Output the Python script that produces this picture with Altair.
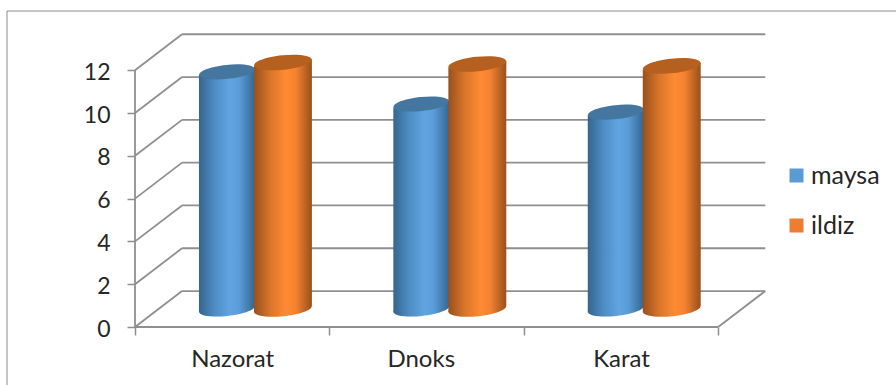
import altair as alt
import pandas as pd

# Chart values
categories = ["Nazorat", "Dnoks", "Karat"]
series_names = ["maysa", "ildiz"]
maysa = [11.08, 9.58, 9.2]
ildiz = [11.52, 11.45, 11.36]
y_levels = [0, 2, 4, 6, 8, 10, 12]

# Oblique projection of the 3D box, in data units
DEPTH_X = 0.242
DEPTH_Y = 1.68
X_MAX = 631 / 194.4
Y_MAX = 294 / 21.4
TILT_Y = 0.15
SERIES_STYLE = {
    "maysa": dict(left=0.329, right=0.617, cap="#44769f",
                  stops=["#34668f", "#4f8cc4", "#5fa5e2", "#5a9cd8", "#34668f"]),
    "ildiz": dict(left=0.612, right=0.91, cap="#b5601f",
                  stops=["#98501c", "#d9752b", "#ff8a33", "#f58230", "#98501c"]),
}
ELLIPSE = "M-1,0 A1,0.25 0 1,1 1,0 A1,0.25 0 1,1 -1,0 Z"

x_scale = alt.Scale(domain=[0, X_MAX], nice=False, zero=False)
y_scale = alt.Scale(domain=[0, Y_MAX], nice=False, zero=False)
LINE = "#8f8f8f"
FONT = "Lato"
TEXT = "#262626"

# Axes: labels sit at category centres, ticks at category boundaries
label_values = [0.5, 1.47, 2.5]
tick_values = list(range(len(categories) + 1))
label_expr = "{" + ",".join(f"'{v}':'{c}'" for v, c in zip(label_values, categories)) + "}[datum.value] || ''"
x_axis = alt.Axis(
    values=sorted(label_values + tick_values), labelExpr=label_expr, grid=False, domain=False,
    tickColor=LINE, tickWidth=1.5, tickSize=8, tickOpacity=alt.expr("datum.value % 1 ? 0 : 1"),
    labelFont=FONT, labelFontSize=24, labelColor=TEXT, labelPadding=12, labelAngle=0,
    labelBaseline="top", labelFlush=False, labelOverlap=False, title=None,
)
y_axis = alt.Axis(
    values=y_levels, grid=False, domain=False, tickColor=LINE, tickWidth=1.5, tickSize=8,
    labelFont=FONT, labelFontSize=23, labelColor=TEXT, labelPadding=17, labelOffset=2, title=None,
)


def pos_x(field="x"):
    return alt.X(f"{field}:Q", scale=x_scale, axis=x_axis, title=None)


def pos_y(field="y"):
    return alt.Y(f"{field}:Q", scale=y_scale, axis=y_axis, title=None, stack=False)


def gradient(stops):
    offsets = [0, 0.28, 0.55, 0.72, 1]
    return alt.Gradient(
        gradient="linear", x1=0, x2=1, y1=0, y2=0,
        stops=[alt.GradientStop(offset=o, color=c) for o, c in zip(offsets, stops)],
    )


# Wall and floor lines of the box
segments = []
for v in y_levels:
    segments.append(dict(x=0, y=v, x2=DEPTH_X, y2=v + DEPTH_Y))
    segments.append(dict(x=DEPTH_X, y=v + DEPTH_Y, x2=len(categories) + DEPTH_X, y2=v + DEPTH_Y))
segments.append(dict(x=0, y=0, x2=0, y2=max(y_levels)))
segments.append(dict(x=0, y=0, x2=len(categories), y2=0))
segments.append(dict(x=len(categories), y=0, x2=len(categories) + DEPTH_X, y2=DEPTH_Y))

walls = alt.Chart(pd.DataFrame(segments)).mark_rule(color=LINE, strokeWidth=1.8).encode(
    x=pos_x(), x2="x2:Q", y=pos_y(), y2="y2:Q"
)

# Outer frame of the chart object
frame_top = alt.Chart(pd.DataFrame({"a": [0]})).mark_rule(color="#8c8c8c", strokeWidth=1).encode(
    x=alt.value(-128), x2=alt.value(761), y=alt.value(-22)
)
frame_left = alt.Chart(pd.DataFrame({"a": [0]})).mark_rule(color="#8c8c8c", strokeWidth=1).encode(
    x=alt.value(-128), y=alt.value(-22), y2=alt.value(352)
)

# One body and two end caps per cylinder; later series overlap earlier ones
cylinder_layers = []
for name, values in zip(series_names, [maysa, ildiz]):
    st = SERIES_STYLE[name]
    centers, body = [], []
    for i, (cat, v) in enumerate(zip(categories, values)):
        left, right = i + st["left"], i + st["right"]
        base = DEPTH_Y / 2
        top = v + DEPTH_Y / 2
        centers.append(dict(category=cat, cx=(left + right) / 2, base=base, top=top))
        body.append(dict(category=cat, x=left, top=top - TILT_Y, bottom=base - TILT_Y))
        body.append(dict(category=cat, x=right, top=top + TILT_Y, bottom=base + TILT_Y))
    width_px = (st["right"] - st["left"]) * 194.4
    grad = gradient(st["stops"])
    center_df = pd.DataFrame(centers)
    base_cap = alt.Chart(center_df).mark_point(
        shape=ELLIPSE, filled=True, size=width_px ** 2, angle=354, color=grad, opacity=1
    ).encode(x=pos_x("cx"), y=pos_y("base"))
    side = alt.Chart(pd.DataFrame(body)).mark_area(color=grad, orient="vertical", opacity=1).encode(
        x=pos_x(), y=pos_y("top"), y2="bottom:Q", detail="category:N"
    )
    top_cap = alt.Chart(center_df).mark_point(
        shape=ELLIPSE, filled=True, size=width_px ** 2, angle=354, color=st["cap"], opacity=1
    ).encode(x=pos_x("cx"), y=pos_y("top"))
    cylinder_layers += [base_cap, side, top_cap]

# Legend driven by the series names
legend_df = pd.DataFrame({"series": series_names, "x": [0.0, 0.0], "y": [0.0, 0.0]})
legend_layer = alt.Chart(legend_df).mark_point(filled=True, opacity=0).encode(
    x=pos_x(), y=pos_y(),
    color=alt.Color(
        "series:N",
        scale=alt.Scale(domain=series_names, range=["#5b9bd5", "#ed7d31"]),
        legend=alt.Legend(
            title=None, orient="none", legendX=649, legendY=130, symbolType="square",
            symbolSize=196, symbolOpacity=1, symbolStrokeWidth=0, labelFont=FONT, labelFontSize=25,
            labelColor=TEXT, rowPadding=24, labelOffset=2, padding=0,
        ),
    ),
)

chart = alt.layer(frame_top, frame_left, walls, *cylinder_layers, legend_layer).properties(
    width=631,
    height=294,
    padding={"left": 135, "top": 33, "right": 130, "bottom": 58},
    autosize=alt.AutoSizeParams(type="none"),
    background="white",
).configure_view(stroke=None)

chart.save("out.html", embed_options={"renderer": "svg", "actions": False})
